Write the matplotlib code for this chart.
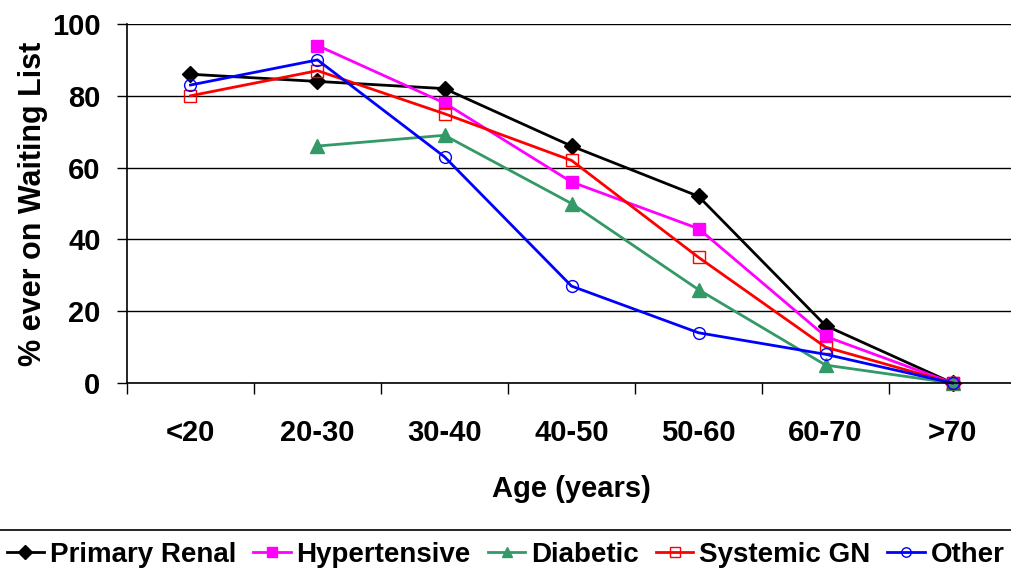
import matplotlib.pyplot as plt
from matplotlib.lines import Line2D
import numpy as np

plt.rcParams['font.family'] = ['Liberation Sans', 'DejaVu Sans']
plt.rcParams['font.weight'] = 'bold'

ages = ["<20", "20-30", "30-40", "40-50", "50-60", "60-70", ">70"]
primary_renal = [86, 84, 82, 66, 52, 16, 0]
hypertensive = [np.nan, 94, 78, 56, 43, 13, 0]
diabetic = [np.nan, 66, 69, 50, 26, 5, 0]
systemic_gn = [80, 87, 75, 62, 35, 10, 0]
other = [83, 90, 63, 27, 14, 8, 0]

fig = plt.figure(figsize=(10.11, 5.71), dpi=100)
ax = fig.add_axes([0.1256, 0.3292, 0.8794, 0.6288])

x = np.arange(len(ages))
series = [
    ("Primary Renal", primary_renal, dict(color='black', marker='D', markersize=8.5, mfc='black')),
    ("Hypertensive", hypertensive, dict(color='#FF00FF', marker='s', markersize=8.5, mfc='#FF00FF')),
    ("Diabetic", diabetic, dict(color='#339966', marker='^', markersize=9.5, mfc='#339966')),
    ("Systemic GN", systemic_gn, dict(color='#FF0000', marker='s', markersize=8.5, mfc='none')),
    ("Other", other, dict(color='#0000FF', marker='o', markersize=8.5, mfc='none')),
]
for name, vals, st in series:
    ax.plot(x, vals, lw=2, label=name, clip_on=False, mew=1, **st)

ax.set_xlim(-0.5, len(ages) - 0.5)
ax.set_ylim(0, 100)
ax.set_yticks(range(0, 101, 20))
ax.yaxis.grid(True, color='black', lw=1)
ax.set_axisbelow(True)
for s in ['top', 'right']:
    ax.spines[s].set_visible(False)
ax.spines['left'].set_linewidth(1.2)
ax.spines['bottom'].set_linewidth(1.2)

ax.set_xticks(x)
ax.set_xticklabels(ages)
ax.set_xticks(np.arange(-0.5, len(ages)), minor=True)
ax.tick_params(axis='x', which='major', length=0, pad=26, labelsize=21)
ax.tick_params(axis='x', which='minor', length=8, width=1, direction='out')
ax.tick_params(axis='y', length=7, width=1, pad=12, labelsize=21)

ax.set_xlabel("Age (years)", fontsize=21, fontweight='bold', labelpad=20)
ax.set_ylabel("% ever on Waiting List", fontsize=22, fontweight='bold', labelpad=3)

fig.add_artist(Line2D([0, 1], [1 - 530 / 571, 1 - 530 / 571], color='black', lw=1.2))
leg = fig.legend(loc='center', bbox_to_anchor=(0.5, 1 - 555 / 571), ncol=5, frameon=False,
                 fontsize=20, handlelength=1.35, handletextpad=0.2, columnspacing=0.62,
                 borderaxespad=0, borderpad=0, markerscale=0.8)
for h in leg.legend_handles:
    h.set_linewidth(2)

fig.savefig("out.png", dpi=100)
